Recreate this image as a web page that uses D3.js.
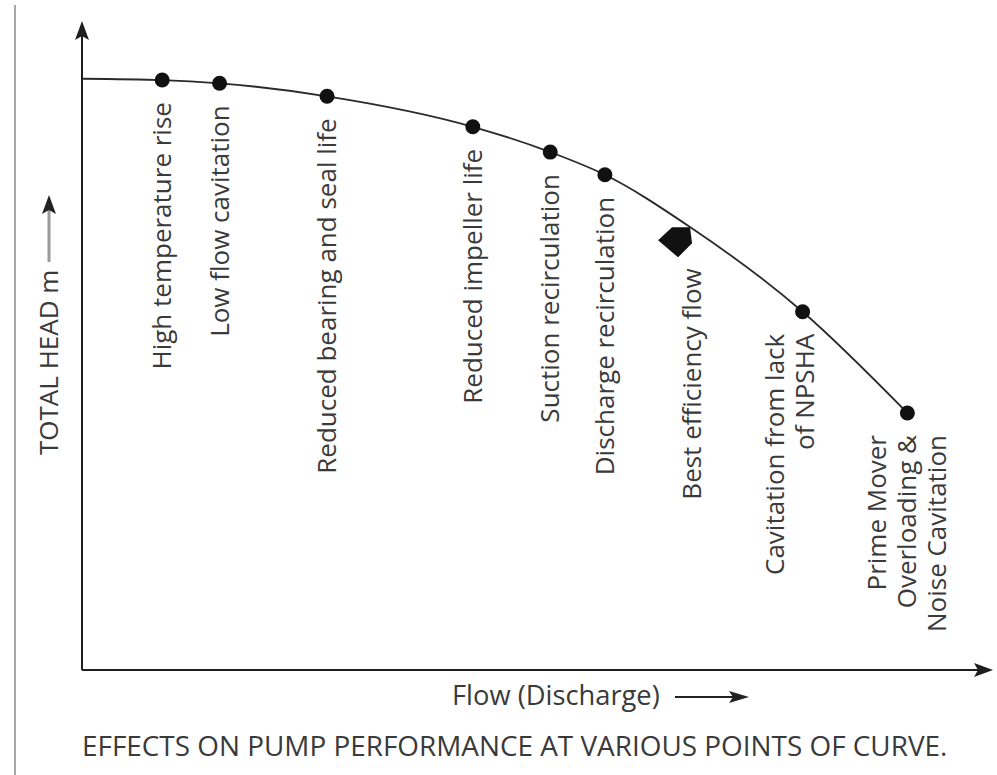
<!DOCTYPE html>
<html>
<head>
<meta charset="utf-8">
<script src="https://cdn.jsdelivr.net/npm/d3@7"></script>
<style>
  html, body { margin: 0; padding: 0; background: #fff; }
  svg { display: block; }
  text { font-family: "Open Sans", "Noto Sans", sans-serif; fill: #3a3a3a; }
</style>
</head>
<body>
<svg id="chart" width="997" height="775"></svg>
<script>
// ---------- data (flow and head in % of axis length) ----------
const shutoffFlow = 0;
const shutoffHead = 91.1;
const effects = [
  "High temperature rise",
  "Low flow cavitation",
  "Reduced bearing and seal life",
  "Reduced impeller life",
  "Suction recirculation",
  "Discharge recirculation",
  "Best efficiency flow",
  "Cavitation from lack\nof NPSHA",
  "Prime Mover\nOverloading &\nNoise Cavitation"
];
const effectFlow = [8.8, 15.1, 26.9, 42.9, 51.4, 57.4, 66.7, 79.1, 90.6];
const effectHead = [90.9, 90.4, 88.4, 83.7, 79.8, 76.3, 68.3, 55.2, 39.6];
const markerType = ["dot", "dot", "dot", "dot", "dot", "dot", "bep", "dot", "dot"];
const bepMarkerFlow = 65.1;
const bepMarkerHead = 65.9;
const yTitle = "TOTAL HEAD m";
const xTitle = "Flow (Discharge)";
const caption = "EFFECTS ON PUMP PERFORMANCE AT VARIOUS POINTS OF CURVE.";

// ---------- layout ----------
const svg = d3.select("#chart");
const x = d3.scaleLinear().domain([0, 100]).range([82, 993]);
const y = d3.scaleLinear().domain([0, 100]).range([670, 21]);
const ink = "#1e1e1e";

// page rule at left
svg.append("line").attr("x1", 15).attr("x2", 15).attr("y1", 5).attr("y2", 775)
  .attr("stroke", "#a6a6a6").attr("stroke-width", 2);

// axes (no ticks) with arrowheads
const x0 = x(0), y0 = y(0), xEnd = x(100), yEnd = y(100);
svg.append("line").attr("x1", x0).attr("x2", x0).attr("y1", y0).attr("y2", yEnd + 10)
  .attr("stroke", ink).attr("stroke-width", 2);
svg.append("line").attr("x1", x0).attr("x2", xEnd - 10).attr("y1", y0).attr("y2", y0)
  .attr("stroke", ink).attr("stroke-width", 2);
svg.append("path")
  .attr("d", `M${x0},${yEnd} L${x0 + 7},${yEnd + 19} L${x0},${yEnd + 15} L${x0 - 7},${yEnd + 19} Z`)
  .attr("fill", ink);
svg.append("path")
  .attr("d", `M${xEnd},${y0} L${xEnd - 19},${y0 - 7} L${xEnd - 15},${y0} L${xEnd - 19},${y0 + 7} Z`)
  .attr("fill", ink);

// head curve
const curveX = [shutoffFlow, ...effectFlow];
const curveY = [shutoffHead, ...effectHead];
const line = d3.line().x((d, i) => x(curveX[i])).y((d, i) => y(curveY[i])).curve(d3.curveMonotoneX);
svg.append("path").datum(curveX).attr("d", line)
  .attr("fill", "none").attr("stroke", "#2a2a2a").attr("stroke-width", 1.8);

// dots
effects.forEach((lab, i) => {
  if (markerType[i] === "dot") {
    svg.append("circle").attr("cx", x(effectFlow[i])).attr("cy", y(effectHead[i]))
      .attr("r", 7.5).attr("fill", "#111");
  }
});
// best efficiency marker (pentagon)
const pent = [[-17, -2], [-3, -15], [15, -15], [17, 1], [3, 15]];
const bx = x(bepMarkerFlow), by = y(bepMarkerHead);
svg.append("path")
  .attr("d", d3.line()(pent.map(p => [bx + p[0], by + p[1]])) + "Z")
  .attr("fill", "#111");

// labels (rotated, top-aligned below each point)
const labelFont = 26;
const lineGap = 30;
const nudge = { 6: 2, 7: -13 };
effects.forEach((lab, i) => {
  const lines = lab.split("\n");
  const px = x(effectFlow[i]) + (nudge[i] || 0);
  let top = y(effectHead[i]) + 22;
  if (markerType[i] === "bep") top = by + 26;
  lines.forEach((t, j) => {
    const lx = px + (j - (lines.length - 1) / 2) * lineGap;
    svg.append("text")
      .attr("transform", `translate(${lx},${top}) rotate(-90)`)
      .attr("text-anchor", "end").attr("dy", "0.35em")
      .attr("font-size", labelFont)
      .text(t);
  });
});

// y title with small arrow
svg.append("text")
  .attr("transform", `translate(49,455) rotate(-90)`)
  .attr("text-anchor", "start").attr("dy", "0.35em")
  .attr("font-size", 26).text(yTitle);
svg.append("line").attr("x1", 49).attr("x2", 49).attr("y1", 262).attr("y2", 208)
  .attr("stroke", "#9a9a9a").attr("stroke-width", 3);
svg.append("path").attr("d", "M49,195 L56,214 L49,210 L42,214 Z").attr("fill", "#222");

// x title with small arrow
svg.append("text").attr("x", 452).attr("y", 705).attr("font-size", 27.3).text(xTitle);
svg.append("line").attr("x1", 675).attr("x2", 735).attr("y1", 697).attr("y2", 697)
  .attr("stroke", "#222").attr("stroke-width", 2);
svg.append("path").attr("d", "M749,697 L729,691 L733,697 L729,703 Z").attr("fill", "#222");

// caption
svg.append("text").attr("x", 82).attr("y", 756).attr("font-size", 27.9).text(caption);
</script>
</body>
</html>
